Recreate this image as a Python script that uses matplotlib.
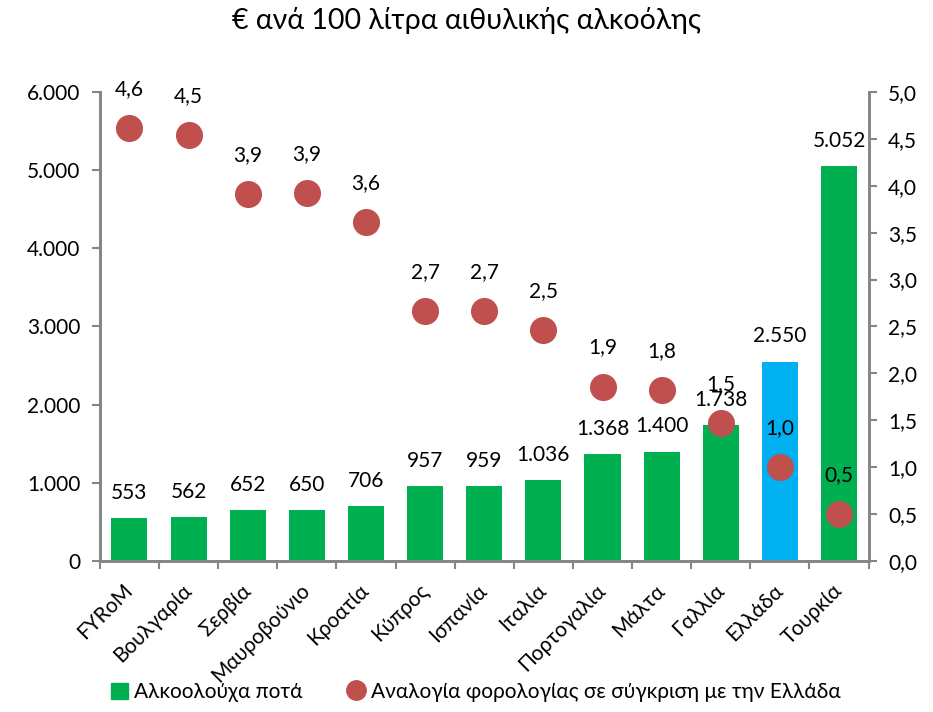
import matplotlib
matplotlib.use('Agg')
import matplotlib.pyplot as plt
from matplotlib.patches import Rectangle
from matplotlib.lines import Line2D
from matplotlib.ticker import FixedLocator, FuncFormatter

plt.rcParams['font.family'] = ['Lato', 'Open Sans', 'DejaVu Sans']

# Data
countries = ['FYRoM', 'Βουλγαρία', 'Σερβία', 'Μαυροβούνιο', 'Κροατία', 'Κύπρος',
             'Ισπανία', 'Ιταλία', 'Πορτογαλία', 'Μάλτα', 'Γαλλία', 'Ελλάδα', 'Τουρκία']
tax_eur = [553, 562, 652, 650, 706, 957, 959, 1036, 1368, 1400, 1738, 2550, 5052]
ratio_vs_greece = [4.61, 4.54, 3.91, 3.92, 3.61, 2.66, 2.66, 2.46, 1.86, 1.82, 1.47, 1.00, 0.50]
highlight = 'Ελλάδα'

# Colors
green = '#00B050'
blue = '#00B0F0'
red = '#C0504D'
axis_gray = '#868686'

fs = 15


def thousands(v, pos=None):
    return f'{int(round(v)):,}'.replace(',', '.')


def comma1(v, pos=None):
    return f'{v:.1f}'.replace('.', ',')


fig = plt.figure(figsize=(9.33, 7.12), dpi=100)
ax = fig.add_axes([0.107, 0.212, 0.824, 0.659])
ax2 = ax.twinx()

x = list(range(len(countries)))
colors = [blue if c == highlight else green for c in countries]
ax.bar(x, tax_eur, width=0.61, color=colors, zorder=2)
for i, v in zip(x, tax_eur):
    ax.annotate(thousands(v), xy=(i, v), xytext=(0, 11), textcoords='offset points',
                ha='center', va='bottom', fontsize=fs)

ax2.scatter(x, ratio_vs_greece, s=380, color=red, zorder=3, linewidths=0)
for i, r in zip(x, ratio_vs_greece):
    ax2.annotate(comma1(r), xy=(i, r), xytext=(0, 21), textcoords='offset points',
                 ha='center', va='bottom', fontsize=fs)

# Axes limits and ticks
ax.set_xlim(-0.5, len(countries) - 0.5)
ax.set_ylim(0, 6000)
ax2.set_ylim(0, 5)
ax.set_yticks(range(0, 6001, 1000))
ax.yaxis.set_major_formatter(FuncFormatter(thousands))
ax2.set_yticks([i * 0.5 for i in range(11)])
ax2.yaxis.set_major_formatter(FuncFormatter(comma1))

ax.set_xticks(x)
ax.set_xticklabels(countries, rotation=45, ha='right', va='center',
                   rotation_mode='anchor', fontsize=fs)
ax.tick_params(axis='x', which='major', length=0, pad=19)
ax.xaxis.set_minor_locator(FixedLocator([i - 0.5 for i in range(len(countries) + 1)]))
ax.tick_params(axis='x', which='minor', length=6, width=1.5, color=axis_gray, direction='out')
ax.tick_params(axis='y', length=6, width=1.5, color=axis_gray, labelsize=fs, pad=8)
ax2.tick_params(axis='y', length=6, width=1.5, color=axis_gray, labelsize=fs, pad=8)

for a in (ax, ax2):
    a.spines['top'].set_visible(False)
    for s in ('left', 'right', 'bottom'):
        a.spines[s].set_color(axis_gray)
        a.spines[s].set_linewidth(2)

fig.suptitle('€ ανά 100 λίτρα αιθυλικής αλκοόλης', fontsize=20.5, y=0.99)

handles = [Rectangle((0, 0), 1, 1, color=green),
           Line2D([], [], marker='o', linestyle='none', markersize=14,
                  markerfacecolor=red, markeredgecolor=red)]
fig.legend(handles, ['Αλκοολούχα ποτά', 'Αναλογία φορολογίας σε σύγκριση με την Ελλάδα'],
           loc='lower center', bbox_to_anchor=(0.51, -0.012), ncol=2, frameon=False,
           fontsize=fs, handlelength=0.8, handleheight=0.8, handletextpad=0.3,
           columnspacing=2.2)

plt.savefig('out.png')
